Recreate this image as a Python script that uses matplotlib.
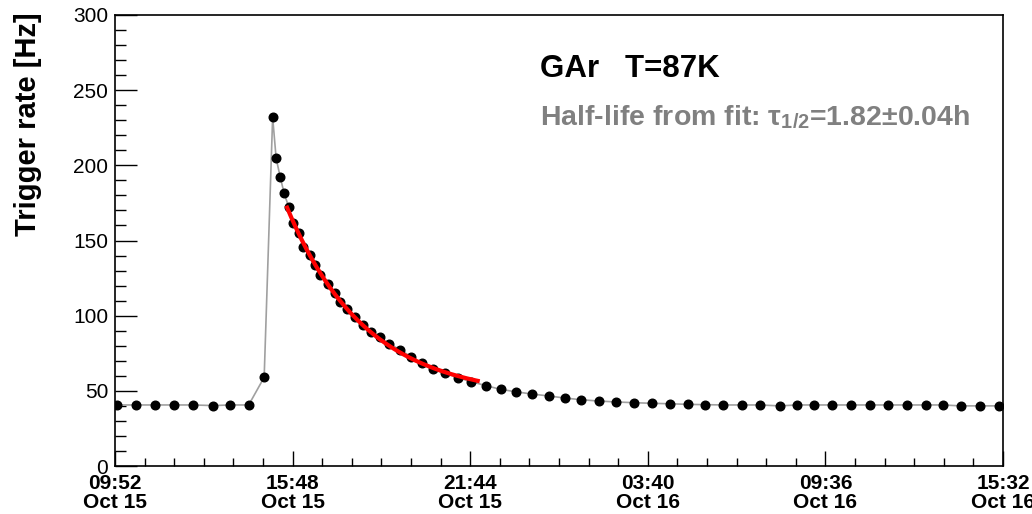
import datetime as dt

import matplotlib.dates as mdates
import matplotlib.pyplot as plt
import numpy as np
from matplotlib.ticker import FixedLocator, MultipleLocator

plt.rcParams['font.family'] = ['Liberation Sans', 'DejaVu Sans']
plt.rcParams['mathtext.fontset'] = 'custom'
plt.rcParams['mathtext.rm'] = 'Liberation Sans:bold'
plt.rcParams['mathtext.bf'] = 'Liberation Sans:bold'
plt.rcParams['mathtext.it'] = 'Liberation Serif:italic'

start = dt.datetime(2024, 10, 15, 9, 52)
end = dt.datetime(2024, 10, 16, 15, 32)

# sample times, minutes after 09:52 Oct 15
minutes = [5, 43, 81, 118, 156, 197, 231, 268, 299, 316,
           323, 331, 339, 348, 356, 369, 377, 390, 401, 411,
           426, 440, 452, 466, 481, 497, 513, 531, 550, 572,
           593, 615, 637, 662, 687, 714, 744, 773, 803, 835,
           869, 902, 934, 970, 1005, 1041, 1077, 1113, 1148, 1182,
           1219, 1256, 1293, 1332, 1367, 1401, 1438, 1475, 1513, 1550,
           1588, 1626, 1660, 1695, 1734, 1771]
rate = [40.6, 40.6, 40.6, 40.6, 40.6, 40.2, 40.6, 40.6, 59.0, 232.0,
        204.7, 192.5, 181.4, 172.5, 161.9, 155.0, 145.9, 140.4, 133.7, 126.8,
        120.9, 114.9, 109.3, 104.3, 99.3, 93.8, 89.0, 85.6, 81.2, 77.3,
        72.7, 68.3, 64.5, 61.7, 58.8, 56.1, 53.4, 51.0, 49.4, 47.9,
        46.6, 45.2, 44.1, 43.2, 42.6, 42.1, 41.7, 41.4, 41.0, 40.8,
        40.6, 40.6, 40.6, 40.0, 40.6, 40.6, 40.6, 40.6, 40.6, 40.6,
        40.6, 40.6, 40.6, 40.0, 40.0, 40.0]

# exponential decay fit window (minutes) and half-life (hours)
fit_from, fit_to = 345, 727
half_life = 1.82

minutes = np.array(minutes, dtype=float)
rate = np.array(rate)
times = [start + dt.timedelta(minutes=m) for m in minutes]

# A * 2^(-t/T) + C with T fixed, A and C by least squares
sel = (minutes >= fit_from) & (minutes <= fit_to)
decay = 2.0 ** (-(minutes[sel] - fit_from) / 60.0 / half_life)
A, C = np.linalg.lstsq(np.column_stack([decay, np.ones_like(decay)]),
                       rate[sel], rcond=None)[0]
fit_m = np.linspace(fit_from, fit_to, 200)
fit_y = A * 2.0 ** (-(fit_m - fit_from) / 60.0 / half_life) + C
fit_t = [start + dt.timedelta(minutes=m) for m in fit_m]

fig = plt.figure(figsize=(10.32, 5.14), dpi=100)
ax = fig.add_axes([115 / 1032, 1 - 466 / 514, 888 / 1032, 451 / 514])

ax.plot(times, rate, color='#a0a0a0', lw=1.2, zorder=2)
ax.plot(times, rate, 'o', color='black', ms=6.2, zorder=3)
ax.plot(fit_t, fit_y, color='red', lw=3, zorder=4)

ax.set_xlim(start, end)
ax.set_ylim(0, 300)

step = dt.timedelta(minutes=356)
major = [mdates.date2num(start + k * step) for k in range(6)]
minor = [mdates.date2num(start + k * step / 6) for k in range(31)]
ax.xaxis.set_major_locator(FixedLocator(major))
ax.xaxis.set_minor_locator(FixedLocator(minor))
ax.xaxis.set_major_formatter(mdates.DateFormatter('%H:%M\n%b %d'))
ax.yaxis.set_major_locator(MultipleLocator(50))
ax.yaxis.set_minor_locator(MultipleLocator(10))

ax.tick_params(axis='x', which='major', direction='in', length=11, width=1,
               labelsize=15, pad=6)
ax.tick_params(axis='x', which='minor', direction='in', length=5.5, width=1)
ax.tick_params(axis='y', which='major', direction='in', length=16, width=1,
               labelsize=15, pad=5)
ax.tick_params(axis='y', which='minor', direction='in', length=8, width=1)
for lab in ax.get_xticklabels():
    lab.set_fontweight('bold')
    lab.set_linespacing(1.0)
for sp in ax.spines.values():
    sp.set_linewidth(1.2)

fig.text(28 / 1032, 1 - 12 / 514, 'Trigger rate [Hz]', rotation=90,
         ha='center', va='top', fontsize=21, fontweight='bold')

fig.text(540 / 1032, 1 - 77 / 514, 'GAr   T=87K', fontsize=22.5,
         fontweight='bold', va='baseline')
fig.text(540 / 1032, 1 - 125 / 514,
         r'Half-life from fit: $\mathrm{\tau}_{1/2}$=%.2f$\pm$0.04h' % half_life,
         fontsize=20.5, fontweight='bold', color='#808080', va='baseline')

fig.savefig('out.png', dpi=100)
